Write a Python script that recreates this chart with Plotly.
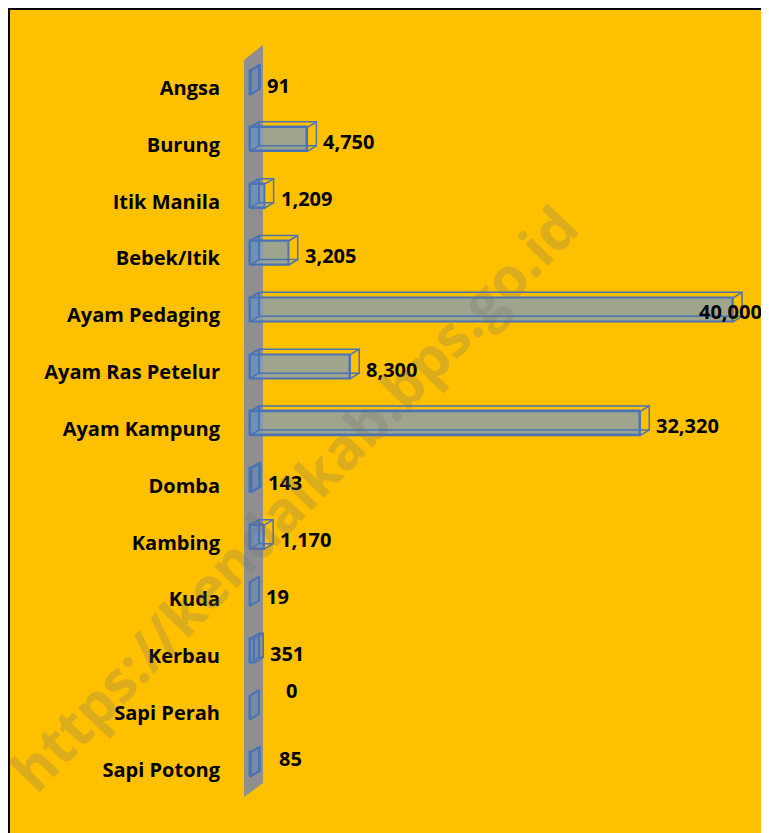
import plotly.graph_objects as go

# ---------------- data ----------------
categories = ["Angsa", "Burung", "Itik Manila", "Bebek/Itik", "Ayam Pedaging",
              "Ayam Ras Petelur", "Ayam Kampung", "Domba", "Kambing", "Kuda",
              "Kerbau", "Sapi Perah", "Sapi Potong"]
values = [91, 4750, 1209, 3205, 40000, 8300, 32320, 143, 1170, 19, 351, 0, 85]

# ---------------- geometry / style ----------------
OFF = 8                        # page body margin (screen px)
FIG_W, FIG_H = 769 - OFF, 833 - OFF
ML, MR, MT, MB = 235 - OFF, 0, 40 - OFF, 29
PW, PH = FIG_W - ML - MR, FIG_H - MT - MB
ZERO_PX = 250 - OFF            # pixel column of value 0 (figure px)
PPU = 483 / 40000              # pixels per value unit
PITCH = 56.83                  # pixels per category
FIRST_PX = 88 - OFF            # pixel row of first category (figure px)

XR = [(ML - ZERO_PX) / PPU, (FIG_W - MR - ZERO_PX) / PPU]
YR = [(FIG_H - MB - FIRST_PX) / PITCH, (MT - FIRST_PX) / PITCH]   # reversed

DX = 9 / PPU                   # depth offset (value units)
DY = 5.5 / PITCH               # depth offset (category units, upward)
FRONT_H = 24 / PITCH
FRONT_SHIFT = -5.5 / PITCH

EDGE = "#4A73B4"
FRONT_FILL = "rgba(132,158,180,0.78)"
SIDE_FILL = "rgba(79,129,200,0.40)"
BG = "#FFC000"
FONT = "Open Sans"
FSIZE = 20

def px_x(px):
    return (px - ML) / PW

def px_y(py):
    return 1 - (py - MT) / PH

fig = go.Figure()

# front faces
fig.add_trace(go.Bar(
    x=values, y=list(range(len(categories))), orientation="h",
    width=FRONT_H, offset=FRONT_SHIFT - FRONT_H / 2,
    marker=dict(color=FRONT_FILL, line=dict(color=EDGE, width=1.5)),
    hoverinfo="skip", showlegend=False))

# 3D depth faces
left_x, left_y, line_x, line_y = [], [], [], []
for i, v in enumerate(values):
    top = i + FRONT_SHIFT - FRONT_H / 2
    bot = i + FRONT_SHIFT + FRONT_H / 2
    left_x += [0, DX, DX, 0, 0, None]
    left_y += [top, top - DY, bot - DY, bot, top, None]
    line_x += [DX, v + DX, v + DX, DX, DX, None]
    line_y += [top - DY, top - DY, bot - DY, bot - DY, top - DY, None]
    line_x += [0, DX, None, v, v + DX, None, v, v + DX, None]
    line_y += [top, top - DY, None, top, top - DY, None, bot, bot - DY, None]
    line_x += [0, v, v, 0, 0, None]
    line_y += [top, top, bot, bot, top, None]

fig.add_trace(go.Scatter(x=left_x, y=left_y, mode="lines", fill="toself",
                         fillcolor=SIDE_FILL, line=dict(color=EDGE, width=1.5),
                         hoverinfo="skip", showlegend=False))
fig.add_trace(go.Scatter(x=line_x, y=line_y, mode="lines",
                         line=dict(color=EDGE, width=1.5),
                         hoverinfo="skip", showlegend=False))

# value labels
LABEL_NUDGE = {"Ayam Pedaging": "inside", "Sapi Perah": (32, 23), "Sapi Potong": (30, 11)}
lab_font = dict(family=FONT, size=FSIZE, color="black", weight="bold")
for i, (c, v) in enumerate(zip(categories, values)):
    txt = f"{v:,}"
    nudge = LABEL_NUDGE.get(c)
    if nudge == "inside":
        fig.add_annotation(x=v, y=i, text=txt, showarrow=False, xanchor="center",
                           yanchor="middle", yshift=4, xshift=-3, font=lab_font)
    elif nudge:
        fig.add_annotation(x=v + DX, y=i, text=txt, showarrow=False, xanchor="center",
                           yanchor="middle", xshift=nudge[0], yshift=nudge[1], font=lab_font)
    else:
        fig.add_annotation(x=v + DX, y=i, text=txt, showarrow=False, xanchor="left",
                           yanchor="middle", xshift=5, yshift=3, font=lab_font)

# axis wall (behind bars)
wx0, wx1 = (244 - OFF - ZERO_PX) / PPU, (263 - OFF - ZERO_PX) / PPU
wy = lambda py: (py - OFF - FIRST_PX) / PITCH
fig.add_shape(type="path", xref="x", yref="y", layer="below",
              path=f"M {wx0},{wy(60)} L {wx1},{wy(45)} L {wx1},{wy(783)} L {wx0},{wy(797)} Z",
              fillcolor="#8F8F8F", line=dict(width=0))

# black border (top and left)
fig.add_shape(type="line", xref="paper", yref="paper", layer="above",
              x0=px_x(0), x1=px_x(FIG_W), y0=px_y(1), y1=px_y(1),
              line=dict(color="black", width=2))
fig.add_shape(type="line", xref="paper", yref="paper", layer="above",
              x0=px_x(1), x1=px_x(1), y0=px_y(0), y1=px_y(FIG_H),
              line=dict(color="black", width=2))

# watermark
fig.add_annotation(xref="paper", yref="paper", x=px_x(293 - OFF), y=px_y(498 - OFF),
                   text="https://kendalkab.bps.go.id", showarrow=False,
                   textangle=-46, xanchor="center", yanchor="middle",
                   font=dict(family="Open Sans", size=57, color="rgba(110,110,110,0.25)",
                             weight="bold"))

fig.update_layout(
    width=FIG_W, height=FIG_H,
    margin=dict(l=ML, r=MR, t=MT, b=MB, pad=0),
    paper_bgcolor=BG, plot_bgcolor=BG,
    bargap=0, showlegend=False,
    xaxis=dict(range=XR, visible=False, fixedrange=True),
    yaxis=dict(range=YR, tickmode="array", tickvals=list(range(len(categories))),
               ticktext=categories, showgrid=False, zeroline=False, showline=False,
               ticks="", ticklabelstandoff=14,
               tickfont=dict(family=FONT, size=FSIZE, color="black", weight="bold"),
               fixedrange=True),
)

fig.write_html("out.html")
